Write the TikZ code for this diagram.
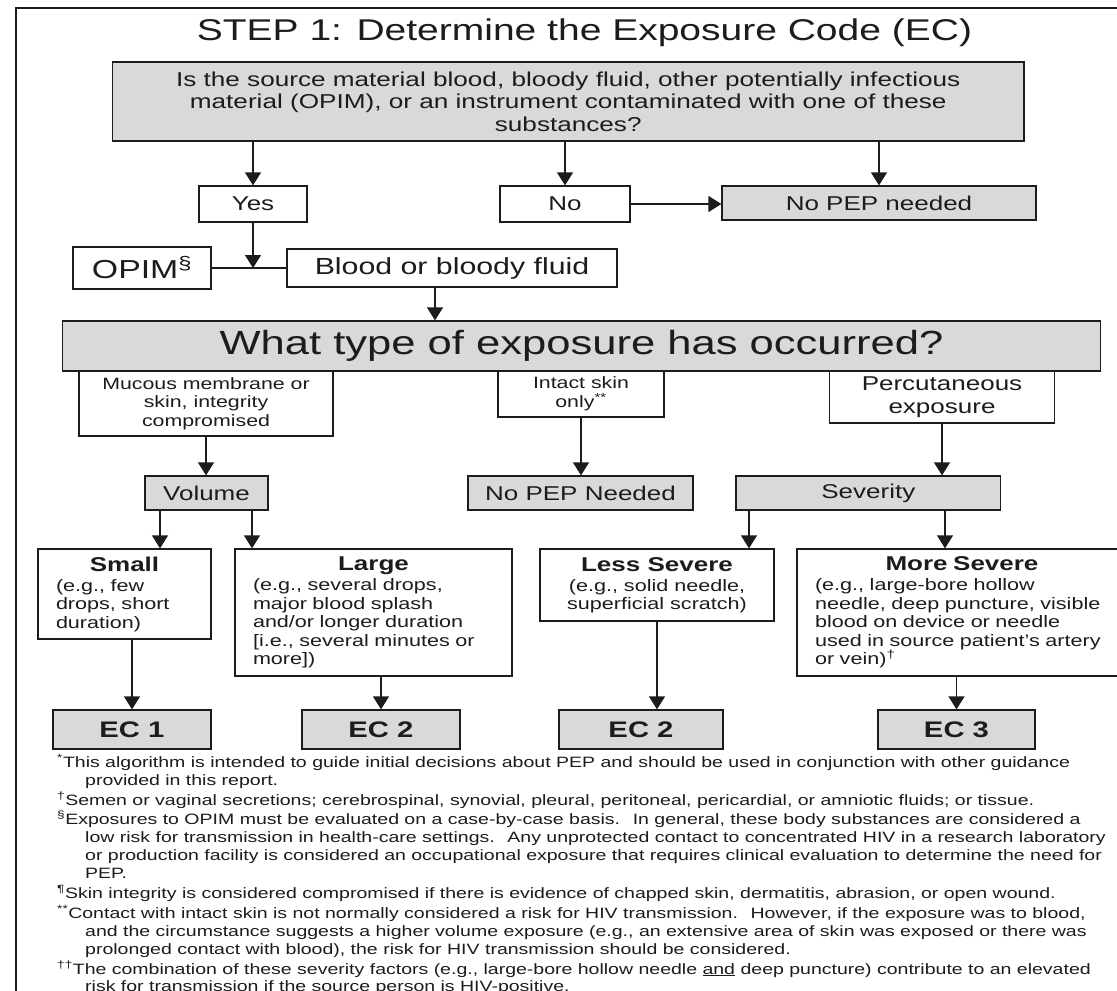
\documentclass[tikz,border=0pt]{standalone}
\usepackage{fontspec}
\setmainfont{Liberation Sans}[FakeStretch=1.3]
\usetikzlibrary{arrows.meta,calc}
\definecolor{boxgray}{RGB}{217,217,217}
\definecolor{ink}{RGB}{28,28,28}
\newcommand{\fsz}[2]{\fontsize{#1}{#2}\selectfont}
\begin{document}
\begin{tikzpicture}[x=1pt,y=-1pt,
  box/.style={draw=ink, line width=1.3pt, inner sep=0pt, align=center, text=ink},
  gbox/.style={box, fill=boxgray},
  lbox/.style={box, align=left, inner xsep=18pt},
  arr/.style={draw=ink, line width=1.3pt, -{Triangle[length=13pt,width=16pt]}},
  link/.style={draw=ink, line width=1.3pt},
  fn/.style={anchor=base west, inner sep=0pt, text=ink, font=\fsz{15}{18}}]
\useasboundingbox (0,0) rectangle (1117,991);
\clip (0,0) rectangle (1117,991);
\fill[white] (0,0) rectangle (1117,991);
% frame
\draw[link] (16,1010) -- (16,8) -- (1130,8);
% title
\node[anchor=base, inner sep=0pt, text=ink, font=\fsz{30}{30}] (title) at (584.5,40) {STEP 1: Determine the Exposure Code (EC)};
% question
\node[gbox, minimum width=911.5pt, minimum height=79pt, font=\fsz{20.1}{22.5}] (q) at (568.25,101.5)
  {Is the source material blood, bloody fluid, other potentially infectious\\material (OPIM), or an instrument contaminated with one of these\\substances?};
\node[box, minimum width=108pt, minimum height=36pt, font=\fsz{20}{20}] (yes) at (253,204) {Yes};
\node[box, minimum width=130pt, minimum height=36pt, font=\fsz{20}{20}] (no) at (565,204) {No};
\node[gbox, minimum width=314pt, minimum height=34pt, font=\fsz{20}{20}] (nopep1) at (879,203) {No PEP needed};
\draw[arr] (q.south -| yes.north) -- (yes.north);
\draw[arr] (q.south -| no.north) -- (no.north);
\draw[arr] (q.south -| nopep1.north) -- (nopep1.north);
\draw[arr] (no.east) -- (no.east -| nopep1.west);
% OPIM / blood
\node[box, minimum width=138pt, minimum height=42pt, font=\fsz{26}{26}] (opim) at (142,268) {OPIM\textsuperscript{§}};
\node[box, minimum width=330pt, minimum height=38pt, font=\fsz{23.3}{23.3}] (blood) at (452,268) {Blood or bloody fluid};
\coordinate (j) at (yes.south |- opim.east);
\draw[link] (opim.east) -- (blood.west);
\draw[arr] (yes.south) -- (j);
% exposure types
\node[box, minimum width=254pt, minimum height=65pt, font=\fsz{16.4}{18.5}] (mucous) at (206,403.5) {Mucous membrane or\\skin, integrity\\compromised};
\node[box, minimum width=166pt, minimum height=46pt, font=\fsz{16.4}{18.5}] (intact) at (581,394) {Intact skin\\only\textsuperscript{**}};
\node[box, minimum width=225pt, minimum height=52pt, font=\fsz{20}{23}] (perc) at (942,397) {Percutaneous\\exposure};
\node[gbox, minimum width=1038pt, minimum height=50pt, font=\fsz{33.5}{33.5}] (what) at (581.5,346) {What type of exposure has occurred?};
\draw[arr] ([xshift=-17pt]blood.south) -- ([xshift=-17pt]blood.south |- what.north);
% second level
\node[gbox, minimum width=123pt, minimum height=34pt, font=\fsz{20}{20}] (volume) at (206.5,493) {Volume};
\node[gbox, minimum width=225pt, minimum height=34pt, font=\fsz{20}{20}] (nopep2) at (580.5,493) {No PEP Needed};
\node[gbox, minimum width=264.6pt, minimum height=34pt, font=\fsz{20}{20}] (sev) at (868.3,493) {Severity};
\draw[arr] (mucous.south) -- (mucous.south |- volume.north);
\draw[arr] (intact.south) -- (intact.south |- nopep2.north);
\draw[arr] (perc.south) -- (perc.south |- sev.north);
% detail boxes
\node[lbox, text width=137pt, minimum height=90pt, font=\fsz{16.6}{18.5}] (small) at (124.5,594)
  {\makebox[\linewidth][c]{\fsz{20}{20}\bfseries Small}\\[1.5pt]\mbox{(e.g., few}\\\mbox{drops, short}\\\mbox{duration)}};
\node[lbox, text width=241pt, minimum height=127pt, font=\fsz{16.6}{18.5}] (large) at (373.5,612.5)
  {\makebox[\linewidth][c]{\fsz{20}{20}\bfseries Large}\\[1.5pt]\mbox{(e.g., several drops,}\\\mbox{major blood splash}\\\mbox{and/or longer duration}\\{}\mbox{[i.e., several minutes or}\\\mbox{more])}};
\node[box, minimum width=234pt, minimum height=72pt, font=\fsz{16.6}{18.5}] (less) at (657,585)
  {{\fsz{20}{20}\bfseries Less Severe}\\[1.5pt](e.g., solid needle,\\superficial scratch)};
\node[lbox, text width=294pt, minimum height=127pt, font=\fsz{16.6}{18.5}] (more) at (962,612.5)
  {\makebox[\linewidth][c]{\fsz{20}{20}\bfseries More Severe}\\[1.5pt]\mbox{(e.g., large-bore hollow}\\\mbox{needle, deep puncture, visible}\\\mbox{blood on device or needle}\\\mbox{used in source patient's artery}\\\mbox{or vein)\textsuperscript{†}}};
\draw[arr] ([xshift=-46.5pt]volume.south) -- ([xshift=-46.5pt]volume.south |- small.north);
\draw[arr] ([xshift=45.5pt]volume.south) -- ([xshift=45.5pt]volume.south |- large.north);
\draw[arr] ([xshift=-119.3pt]sev.south) -- ([xshift=-119.3pt]sev.south |- less.north);
\draw[arr] ([xshift=76.7pt]sev.south) -- ([xshift=76.7pt]sev.south |- more.north);
% exposure codes
\node[gbox, minimum width=158pt, minimum height=39pt, font=\fsz{22.5}{22.5}\bfseries] (ec1) at (132,729.5) {EC 1};
\node[gbox, minimum width=158pt, minimum height=39pt, font=\fsz{22.5}{22.5}\bfseries] (ec2a) at (381,729.5) {EC 2};
\node[gbox, minimum width=164pt, minimum height=39pt, font=\fsz{22.5}{22.5}\bfseries] (ec2b) at (641,729.5) {EC 2};
\node[gbox, minimum width=157pt, minimum height=39pt, font=\fsz{22.5}{22.5}\bfseries] (ec3) at (956.5,729.5) {EC 3};
\draw[arr] (ec1.north |- small.south) -- (ec1.north);
\draw[arr] (ec2a.north |- large.south) -- (ec2a.north);
\draw[arr] (less.south) -- (less.south |- ec2b.north);
\draw[arr] (ec3.north |- more.south) -- (ec3.north);
% footnotes
\node[fn] (fn1) at (57,767) {\textsuperscript{*}This algorithm is intended to guide initial decisions about PEP and should be used in conjunction with other guidance};
\node[fn] (fn2) at (85,785) {provided in this report.};
\node[fn] (fn3) at (57,805) {\textsuperscript{†}Semen or vaginal secretions; cerebrospinal, synovial, pleural, peritoneal, pericardial, or amniotic fluids; or tissue.};
\node[fn] (fn4) at (57,824) {\textsuperscript{§}Exposures to OPIM must be evaluated on a case-by-case basis.~ In general, these body substances are considered a};
\node[fn] (fn5) at (85,842) {low risk for transmission in health-care settings.~ Any unprotected contact to concentrated HIV in a research laboratory};
\node[fn] (fn6) at (85,860) {or production facility is considered an occupational exposure that requires clinical evaluation to determine the need for};
\node[fn] (fn7) at (85,878) {PEP.};
\node[fn] (fn8) at (57,898) {\textsuperscript{¶}Skin integrity is considered compromised if there is evidence of chapped skin, dermatitis, abrasion, or open wound.};
\node[fn] (fn9) at (57,918) {\textsuperscript{**}Contact with intact skin is not normally considered a risk for HIV transmission.~ However, if the exposure was to blood,};
\node[fn] (fn10) at (85,936) {and the circumstance suggests a higher volume exposure (e.g., an extensive area of skin was exposed or there was};
\node[fn] (fn11) at (85,954) {prolonged contact with blood), the risk for HIV transmission should be considered.};
\node[fn] (fn12) at (57,974) {\textsuperscript{††}The combination of these severity factors (e.g., large-bore hollow needle \underline{and} deep puncture) contribute to an elevated};
\node[fn] (fn13) at (85,991) {risk for transmission if the source person is HIV-positive.};
\end{tikzpicture}
\end{document}
